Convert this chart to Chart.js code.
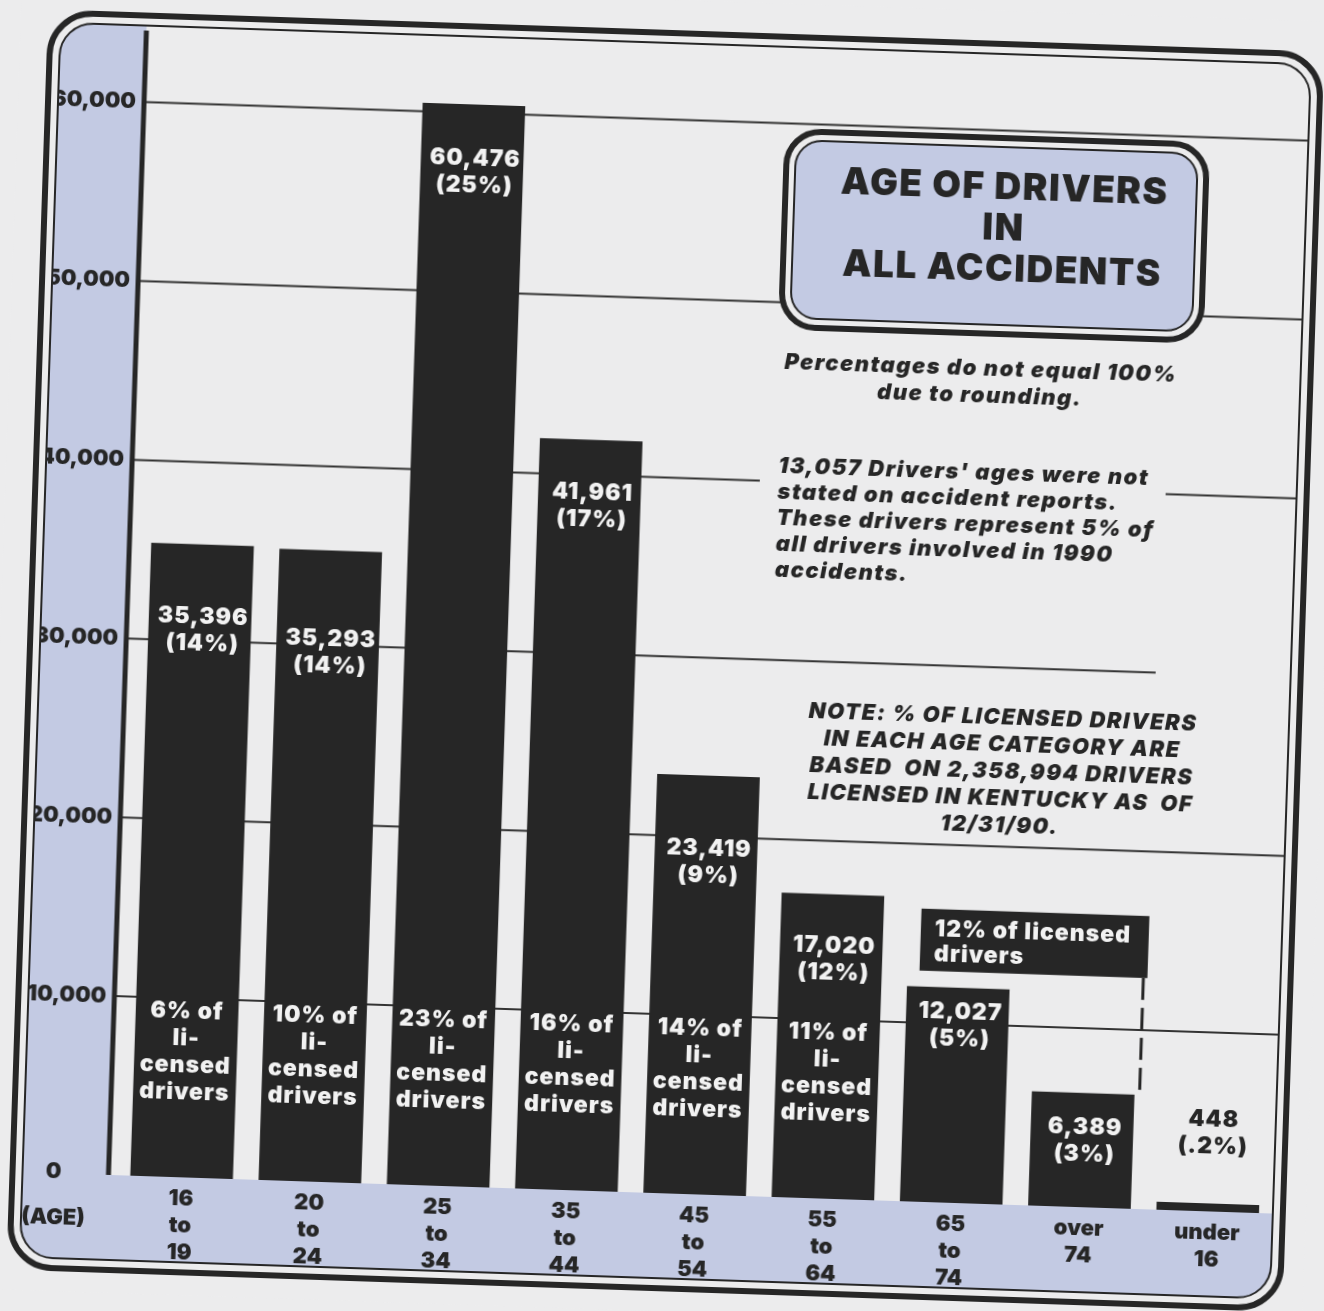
<!DOCTYPE html>
<html>
<head>
<meta charset="utf-8">
<script src="https://cdn.jsdelivr.net/npm/chart.js@4.4.0/dist/chart.umd.min.js"></script>
<style>
  html, body { margin: 0; padding: 0; background: #ececed; overflow: hidden; }
  /* the printed page was scanned a little crooked */
  #wrap { width: 1324px; height: 1311px; transform: rotate(1.9deg); transform-origin: 662px 655px; }
</style>
</head>
<body>
<div id="wrap"><canvas id="chart" width="1324" height="1311"></canvas></div>
<script>
// ---- data ----
const ageGroups = [['16', 'to', '19'], ['20', 'to', '24'], ['25', 'to', '34'], ['35', 'to', '44'],
    ['45', 'to', '54'], ['55', 'to', '64'], ['65', 'to', '74'], ['over', '74'], ['under', '16']];
const drivers = [35396, 35293, 60476, 41961, 23419, 17020, 12027, 6389, 448];
const driverShare = ['14%', '14%', '25%', '17%', '9%', '12%', '5%', '3%', '.2%'];
const licensedShare = ['6%', '10%', '23%', '16%', '14%', '11%'];
const olderLicensedShare = '12%'; // 65 to 74 and over 74 together
const yTicks = [0, 10000, 20000, 30000, 40000, 50000, 60000];
const yTickLabels = ['0', '10,000', '20,000', '30,000', '40,000', '50,000', '60,000'];

const titleLines = ['AGE OF DRIVERS', 'IN', 'ALL ACCIDENTS'];
const roundingNote = ['Percentages do not equal 100%', 'due to rounding.'];
const unknownNote = ["13,057 Drivers' ages were not", 'stated on accident reports.',
    'These drivers represent 5% of', 'all drivers involved in 1990', 'accidents.'];
const licenseNote = ['NOTE: % OF LICENSED DRIVERS', 'IN EACH AGE CATEGORY ARE',
    'BASED  ON 2,358,994 DRIVERS', 'LICENSED IN KENTUCKY AS  OF', '12/31/90.'];

// ---- look ----
const BG = '#ececed', INK = '#262626', BLUE = '#c3cae3', WHITE = '#f2f2f2';
const FAMILY = 'Inter, "DejaVu Sans", sans-serif';
const font = (size, italic) => (italic ? 'italic ' : '') + '900 ' + size + 'px ' + FAMILY;
// how far below the top of each bar its count label starts
const topLabelDrop = [72, 88, 54, 53, 73, 52, 24, 34, -84];

function rrect(ctx, x, y, w, h, r) {
    ctx.beginPath();
    ctx.roundRect(x, y, w, h, r);
}

function lines(ctx, arr, x, y, step) {
    arr.forEach((t, k) => ctx.fillText(t, x, y + k * step));
}

const frame = { x: 30, y: 33, w: 1271, h: 1255, r: 42, inset: 10 };
const inner = () => ({
    x: frame.x + frame.inset, y: frame.y + frame.inset,
    w: frame.w - 2 * frame.inset, h: frame.h - 2 * frame.inset, r: frame.r - 9
});

const pagePlugin = {
    id: 'page',
    beforeDraw(chart) {
        const ctx = chart.ctx, area = chart.chartArea, f = inner();
        ctx.save();
        ctx.fillStyle = BG;
        ctx.fillRect(0, 0, chart.width, chart.height);
        rrect(ctx, f.x, f.y, f.w, f.h, f.r);
        ctx.clip();
        ctx.fillStyle = BLUE;
        ctx.fillRect(f.x, f.y, area.left - 9 - f.x, f.h);
        ctx.fillRect(f.x, area.bottom, f.w, f.y + f.h - area.bottom);
        ctx.restore();
    },
    beforeDatasetsDraw(chart) {
        const ctx = chart.ctx, area = chart.chartArea, y = chart.scales.y, f = inner();
        const axisX = area.left - 9;
        ctx.save();
        // grid lines
        ctx.strokeStyle = '#333';
        ctx.lineWidth = 2;
        yTicks.slice(1).forEach(v => {
            const py = y.getPixelForValue(v);
            ctx.beginPath();
            ctx.moveTo(axisX, py);
            ctx.lineTo(f.x + f.w - 1, py);
            ctx.stroke();
        });
        // paper left clear around the notes
        ctx.fillStyle = BG;
        ctx.fillRect(754, 446, 406, 140);
        ctx.fillRect(1156, y.getPixelForValue(30000) - 12, 140, 24);

        // title box
        const tb = { x: 770, y: 127, w: 420, h: 196 };
        rrect(ctx, tb.x, tb.y, tb.w, tb.h, 34);
        ctx.fill();
        ctx.lineWidth = 6;
        ctx.strokeStyle = INK;
        ctx.stroke();
        rrect(ctx, tb.x + 9, tb.y + 9, tb.w - 18, tb.h - 18, 26);
        ctx.fillStyle = BLUE;
        ctx.fill();
        ctx.lineWidth = 2;
        ctx.stroke();
        ctx.fillStyle = INK;
        ctx.font = font(37);
        ctx.letterSpacing = '1.5px';
        ctx.textAlign = 'center';
        ctx.textBaseline = 'middle';
        lines(ctx, titleLines, tb.x + tb.w / 2 + 9, 177, 41);

        // y axis
        ctx.lineWidth = 5;
        ctx.beginPath();
        ctx.moveTo(axisX, area.top);
        ctx.lineTo(axisX, area.bottom);
        ctx.stroke();
        ctx.restore();
    },
    afterDatasetsDraw(chart) {
        const ctx = chart.ctx, area = chart.chartArea, y = chart.scales.y;
        const bars = chart.getDatasetMeta(0).data;
        ctx.save();
        ctx.textAlign = 'center';
        ctx.textBaseline = 'middle';
        ctx.font = font(23);
        ctx.letterSpacing = '1px';

        // count and share on each bar
        bars.forEach((b, i) => {
            const txt = [drivers[i].toLocaleString('en-US'), '(' + driverShare[i] + ')'];
            ctx.fillStyle = topLabelDrop[i] < 0 ? INK : WHITE;
            lines(ctx, txt, b.x + 3, b.y + topLabelDrop[i], 27);
        });
        // share of licensed drivers
        ctx.fillStyle = WHITE;
        licensedShare.forEach((s, i) => {
            lines(ctx, [s + ' of', 'li-', 'censed', 'drivers'], bars[i].x, area.bottom - 166, 27);
        });

        // 65-74 and over 74 share one licensed figure
        const b7 = bars[6], b8 = bars[7];
        const bx = b7.x - b7.width / 2 + 12, bw = b8.x + b8.width / 2 + 9 - bx;
        const by = b7.y - 78, bh = 62;
        ctx.fillStyle = INK;
        ctx.fillRect(bx, by, bw, bh);
        ctx.fillStyle = WHITE;
        ctx.textAlign = 'left';
        lines(ctx, [olderLicensedShare + ' of licensed', 'drivers'], bx + 14, by + 20, 25);
        ctx.strokeStyle = INK;
        ctx.lineWidth = 3;
        ctx.setLineDash([22, 8]);
        ctx.beginPath();
        ctx.moveTo(bx + bw - 4, by + bh);
        ctx.lineTo(bx + bw - 4, b8.y);
        ctx.stroke();
        ctx.setLineDash([]);

        // notes
        ctx.fillStyle = INK;
        ctx.font = font(22, true);
        ctx.letterSpacing = '1.5px';
        ctx.textAlign = 'center';
        lines(ctx, roundingNote, 971, 358, 27);
        lines(ctx, licenseNote, 1005, 706, 27);
        ctx.textAlign = 'left';
        lines(ctx, unknownNote, 772, 462, 26);

        // axis corner labels
        ctx.font = font(22);
        ctx.letterSpacing = '0px';
        ctx.textAlign = 'center';
        ctx.fillText('0', 71, y.getPixelForValue(0) - 2);
        ctx.fillText('(AGE)', 72, area.bottom + 44);

        // frame: double rounded border
        const f = inner();
        ctx.beginPath();
        ctx.roundRect(frame.x, frame.y, frame.w, frame.h, frame.r);
        ctx.roundRect(f.x, f.y, f.w, f.h, f.r);
        ctx.fillStyle = BG;
        ctx.fill('evenodd');
        ctx.strokeStyle = INK;
        rrect(ctx, frame.x, frame.y, frame.w, frame.h, frame.r);
        ctx.lineWidth = 6;
        ctx.stroke();
        rrect(ctx, f.x, f.y, f.w, f.h, f.r);
        ctx.lineWidth = 2;
        ctx.stroke();
        ctx.restore();
    }
};

new Chart(document.getElementById('chart'), {
    type: 'bar',
    data: {
        labels: ageGroups,
        datasets: [{
            data: drivers,
            backgroundColor: INK,
            barPercentage: 0.8,
            categoryPercentage: 1
        }]
    },
    options: {
        responsive: false,
        animation: false,
        devicePixelRatio: 1,
        layout: { padding: { top: 48, right: 34, left: 0, bottom: 0 } },
        plugins: { legend: { display: false }, tooltip: { enabled: false } },
        scales: {
            x: {
                grid: { display: false },
                border: { display: false },
                ticks: {
                    color: INK,
                    padding: 0,
                    maxRotation: 0,
                    autoSkip: false,
                    font: { family: FAMILY, size: 22, weight: 900, lineHeight: '27px' }
                },
                afterFit: s => { s.height = 118; }
            },
            y: {
                min: 0,
                max: 64000,
                grid: { display: false },
                border: { display: false },
                afterBuildTicks: s => { s.ticks = yTicks.map(v => ({ value: v })); },
                ticks: {
                    color: INK,
                    padding: 9,
                    font: { family: FAMILY, size: 22, weight: 900 },
                    callback: v => (v === 0 ? '' : yTickLabels[yTicks.indexOf(v)])
                },
                afterFit: s => { s.width = 135; }
            }
        }
    },
    plugins: [pagePlugin]
});
</script>
</body>
</html>
